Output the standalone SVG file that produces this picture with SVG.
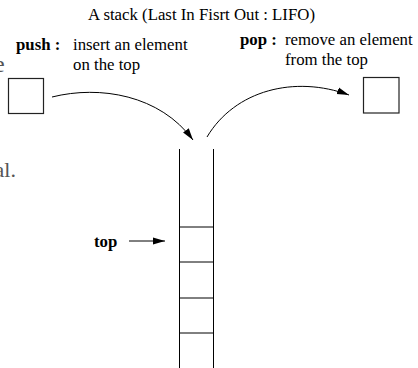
<svg xmlns="http://www.w3.org/2000/svg" width="418" height="368" viewBox="0 0 418 368">
  <style>
    text { font-family: "Liberation Serif", "Times New Roman", serif; font-size: 16.8px; fill: #000; }
    .b { font-weight: bold; }
    .frag { fill: #555; }
    .box { fill: #fff; stroke: #222; stroke-width: 1.2; }
    .wire { fill: none; stroke: #000; stroke-width: 1; }
    .cell { stroke: #000; stroke-width: 1; fill: none; }
  </style>
  <defs>
    <marker id="head" viewBox="0 0 12 8" refX="12" refY="4" markerWidth="12" markerHeight="8" markerUnits="userSpaceOnUse" orient="auto">
      <path d="M0,0.5 L12,4 L0,7.5 Z" fill="#000"/>
    </marker>
  </defs>
  <rect width="418" height="368" fill="#fff"/>

  <!-- partial text running in from the left edge -->
  <text class="frag" x="-6" y="72" style="font-size:24px">e</text>
  <text class="frag" x="-5.5" y="177" style="font-size:22px">al.</text>

  <g id="title">
    <text x="201.5" y="20" text-anchor="middle">A stack (Last In Fisrt Out : LIFO)</text>
  </g>

  <g id="push-label">
    <text class="b" x="16" y="50">push :</text>
    <text x="73" y="50">insert an element</text>
    <text x="73" y="70">on the top</text>
  </g>

  <g id="pop-label">
    <text class="b" x="240" y="45">pop :</text>
    <text x="285" y="45">remove an element</text>
    <text x="285" y="65">from the top</text>
  </g>

  <g id="left-box">
    <rect class="box" x="8.5" y="78.5" width="35" height="35"/>
  </g>

  <g id="right-box">
    <rect class="box" x="363.5" y="77.5" width="35.5" height="35.5"/>
  </g>

  <g id="stack">
    <line class="cell" x1="179.5" y1="149" x2="179.5" y2="368"/>
    <line class="cell" x1="213.5" y1="149" x2="213.5" y2="368"/>
    <line class="cell" x1="179" y1="227" x2="214" y2="227"/>
    <line class="cell" x1="179" y1="262" x2="214" y2="262"/>
    <line class="cell" x1="179" y1="298" x2="214" y2="298"/>
    <line class="cell" x1="179" y1="333" x2="214" y2="333"/>
  </g>

  <g id="top-label">
    <text class="b" x="94" y="247">top</text>
  </g>

  <g id="connectors">
    <path class="wire" d="M52,97 C100,85 160,95 193,140" marker-end="url(#head)"/>
    <path class="wire" d="M207,137 C235,90 295,75 349,95" marker-end="url(#head)"/>
    <line class="wire" x1="129" y1="241" x2="165" y2="241" marker-end="url(#head)"/>
  </g>
</svg>
